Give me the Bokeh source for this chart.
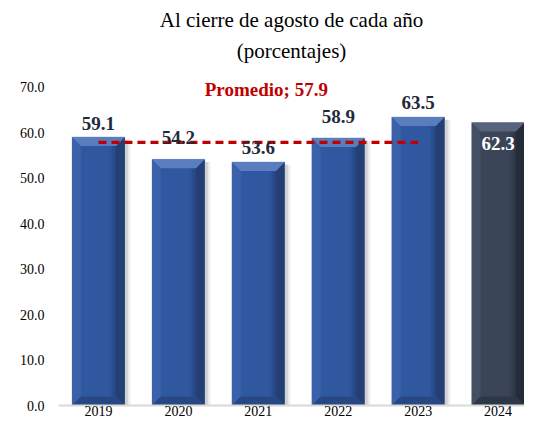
import numpy as np
from bokeh.plotting import figure
from bokeh.models import (Range1d, FixedTicker, NumeralTickFormatter, Title, Label,
                          ColumnDataSource)
from bokeh.embed import file_html
from bokeh.resources import INLINE

# ---- data ----
years = ["2019", "2020", "2021", "2022", "2023", "2024"]
values = [59.1, 54.2, 53.6, 58.9, 63.5, 62.3]
promedio = 57.9
promedio_years = ["2019", "2020", "2021", "2022", "2023"]
y_ticks = [0, 10, 20, 30, 40, 50, 60, 70]

# ---- styles ----
FONT = "'Liberation Serif', serif"
main_col = ["#3058A0"] * 5 + ["#3A4558"]
top_col = ["#5A7DC0"] * 5 + ["#56637A"]
right_col = ["#233F73"] * 5 + ["#242C39"]
left_col = ["#3A61A9"] * 5 + ["#444F63"]
bot_col = ["#284884"] * 5 + ["#2E3746"]
label_col = ["#1F2A3A"] * 5 + ["#FFFFFF"]
label_gap = [14, 22, 14, 21, 15, -21]

p = figure(width=524, height=418, output_backend="svg", toolbar_location=None,
           x_range=Range1d(-0.5, 5.33), y_range=Range1d(0, 75.5), title=None,
           min_border_left=58, min_border_right=0, min_border_top=10, min_border_bottom=0)
p.outline_line_color = None
p.xgrid.grid_line_color = None
p.ygrid.grid_line_color = None
p.background_fill_color = "white"

x = np.arange(len(years), dtype=float)
v = np.array(values)
w = 0.66
dx = 0.11
dy = 2.0

# shadow
p.vbar(x=x + w / 2 + 0.035, width=0.07, top=v - 0.6, bottom=0, fill_color="#000000",
       fill_alpha=0.08, line_color=None)
p.vbar(x=x + w / 2 + 0.02, width=0.04, top=v - 0.6, bottom=0, fill_color="#000000",
       fill_alpha=0.10, line_color=None)
# main bar
p.vbar(x=x, width=w, top=v, bottom=0, fill_color=main_col, line_color="#9FB3D8",
       line_width=0.6)

L = x - w / 2
R = x + w / 2
# bevels
left_xs = [[l, l + dx, l + dx, l] for l in L]
left_ys = [[t, t - dy, dy, 0] for t in v]
right_xs = [[r, r - dx, r - dx, r] for r in R]
right_ys = [[t, t - dy, dy, 0] for t in v]
bot_xs = [[l, r, r - dx, l + dx] for l, r in zip(L, R)]
bot_ys = [[0, 0, dy, dy] for _ in v]
top_xs = [[l, r, r - dx, l + dx] for l, r in zip(L, R)]
top_ys = [[t, t, t - dy, t - dy] for t in v]
p.patches(left_xs, left_ys, fill_color=left_col, line_color=None)
p.patches(right_xs, right_ys, fill_color=right_col, line_color=None)
p.patches(bot_xs, bot_ys, fill_color=bot_col, line_color=None)
p.patches(top_xs, top_ys, fill_color=top_col, line_color=None)
# right darkening gradient strips inside the face
for k, a in enumerate([0.06, 0.12, 0.18]):
    p.vbar(x=R - dx - 0.025 * (2.5 - k), width=0.025, top=v - dy, bottom=dy,
           fill_color="#000000", fill_alpha=a, line_color=None)

# average line
p.line(x=[years.index(promedio_years[0]), years.index(promedio_years[-1])],
       y=[promedio, promedio], line_color="#C00000", line_width=3.2, line_dash="8 5")

# value labels
src = ColumnDataSource(dict(x=x, y=v, t=[f"{a:.1f}" for a in values], c=label_col,
                            off=[-g for g in label_gap]))
p.text(x="x", y="y", text="t", source=src, text_color="c", y_offset="off",
       text_align="center", text_baseline="middle", text_font=FONT,
       text_font_size="19px", text_font_style="bold")

p.add_layout(Label(x=2.1, y=69.6, text=f"Promedio; {promedio:.1f}", text_align="center",
                   text_baseline="middle", text_color="#C00000", text_font=FONT,
                   text_font_size="19px", text_font_style="bold"))

# axes
p.yaxis.ticker = FixedTicker(ticks=y_ticks)
p.yaxis.formatter = NumeralTickFormatter(format="0.0")
p.yaxis.axis_line_color = None
p.yaxis.major_tick_line_color = None
p.yaxis.minor_tick_line_color = None
p.yaxis.major_tick_out = 0
p.yaxis.major_tick_in = 0
p.yaxis.major_label_standoff = 14
p.yaxis.major_label_text_font = FONT
p.yaxis.major_label_text_font_size = "14px"
p.yaxis.major_label_text_color = "#000000"

p.xaxis.ticker = FixedTicker(ticks=list(range(len(years))))
p.xaxis.major_label_overrides = {i: y for i, y in enumerate(years)}
p.xaxis.axis_line_color = "#D9D9D9"
p.xaxis.axis_line_width = 2
p.xaxis.major_tick_line_color = None
p.xaxis.minor_tick_line_color = None
p.xaxis.major_tick_out = 0
p.xaxis.major_tick_in = 0
p.xaxis.major_label_standoff = 0
p.xaxis.major_label_text_font = FONT
p.xaxis.major_label_text_font_size = "14px"
p.xaxis.major_label_text_color = "#000000"

# titles
p.add_layout(Title(text="(porcentajes)", align="center", offset=-14, text_font=FONT,
                   text_font_size="21px", text_font_style="normal",
                   text_color="#000000", standoff=0), "above")
p.add_layout(Title(text="Al cierre de agosto de cada año", align="center", offset=-14,
                   text_font=FONT, text_font_size="21px", text_font_style="normal",
                   text_color="#000000"), "above")

open("out.html", "w").write(file_html(p, INLINE))
